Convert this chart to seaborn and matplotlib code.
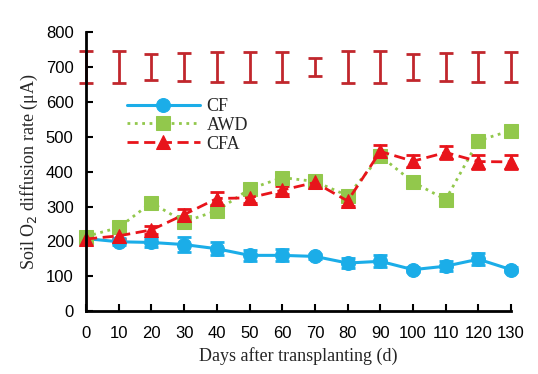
import numpy as np
import matplotlib
matplotlib.use("Agg")
import matplotlib.pyplot as plt
import seaborn as sns

# days after transplanting
days = [0, 10, 20, 30, 40, 50, 60, 70, 80, 90, 100, 110, 120, 130]

# soil O2 diffusion rate (uA)
cf = [208, 199, 197, 191, 179, 160, 160, 157, 138, 143, 119, 129, 149, 119]
cf_err = [8, 10, 12, 22, 18, 15, 17, 8, 15, 17, 8, 15, 17, 8]
awd = [214, 240, 311, 256, 288, 350, 383, 372, 331, 445, 370, 320, 489, 518]
cfa = [207, 216, 233, 277, 323, 325, 347, 369, 316, 458, 430, 455, 429, 428]
cfa_err = [15, 10, 12, 15, 20, 15, 12, 10, 15, 18, 18, 20, 20, 20]

# LSD-type bars drawn along the top
lsd_y = [700] * 14
lsd_err = [45, 45, 38, 41, 43, 43, 43, 25, 46, 45, 38, 41, 43, 42]

blue = "#1BADE8"
green = "#92C84C"
red = "#E8141B"
dark_red = "#C1272D"

sns.set_style("ticks")
plt.rcParams["font.family"] = ["Liberation Sans", "DejaVu Sans"]
plt.rcParams["xtick.direction"] = "in"
plt.rcParams["ytick.direction"] = "in"

fig = plt.figure(figsize=(5.38, 3.74), dpi=100)
ax = fig.add_axes([0.16, 0.168, 0.79, 0.746])

# error bars first so markers sit on top
ax.errorbar(days, lsd_y, yerr=lsd_err, fmt="none", ecolor=dark_red,
            elinewidth=2, capsize=5, capthick=2, clip_on=False)
ax.errorbar(days, cf, yerr=cf_err, fmt="none", ecolor=blue,
            elinewidth=2, capsize=5, capthick=2, clip_on=False)
ax.errorbar(days, cfa, yerr=cfa_err, fmt="none", ecolor=red,
            elinewidth=2, capsize=5, capthick=2, clip_on=False)

sns.lineplot(x=days, y=cf, ax=ax, color=blue, marker="o", markersize=10,
             markeredgecolor=blue, linewidth=2.2, linestyle="-", label="CF",
             clip_on=False)
sns.lineplot(x=days, y=awd, ax=ax, color=green, marker="s", markersize=10,
             markeredgecolor=green, linewidth=2, linestyle=":", label="AWD",
             clip_on=False)
sns.lineplot(x=days, y=cfa, ax=ax, color=red, marker="^", markersize=10,
             markeredgecolor=red, linewidth=2, linestyle=(0, (4, 2)), label="CFA",
             clip_on=False)

ax.set_xlim(0, 130)
ax.set_ylim(0, 800)
ax.set_xticks(days)
ax.set_yticks(range(0, 801, 100))
ax.tick_params(labelsize=12, width=1.5, length=5, colors="black")
ax.tick_params(axis="x", pad=11)
ax.tick_params(axis="y", pad=9)
for s in ["left", "bottom"]:
    ax.spines[s].set_linewidth(2)
    ax.spines[s].set_color("black")
sns.despine(ax=ax)

serif = ["Liberation Serif", "DejaVu Serif"]
ax.set_xlabel("Days after transplanting (d)", family=serif, fontsize=13)
ax.set_ylabel("Soil O$_2$ diffusion rate (\u03bcA)", family=serif, fontsize=13)

leg = ax.legend(loc="upper left", bbox_to_anchor=(0.08, 0.79), frameon=False,
                prop={"family": serif, "size": 13}, handlelength=4,
                handletextpad=0.4, labelspacing=0.1, borderaxespad=0)

fig.savefig("out.png", dpi=100)
